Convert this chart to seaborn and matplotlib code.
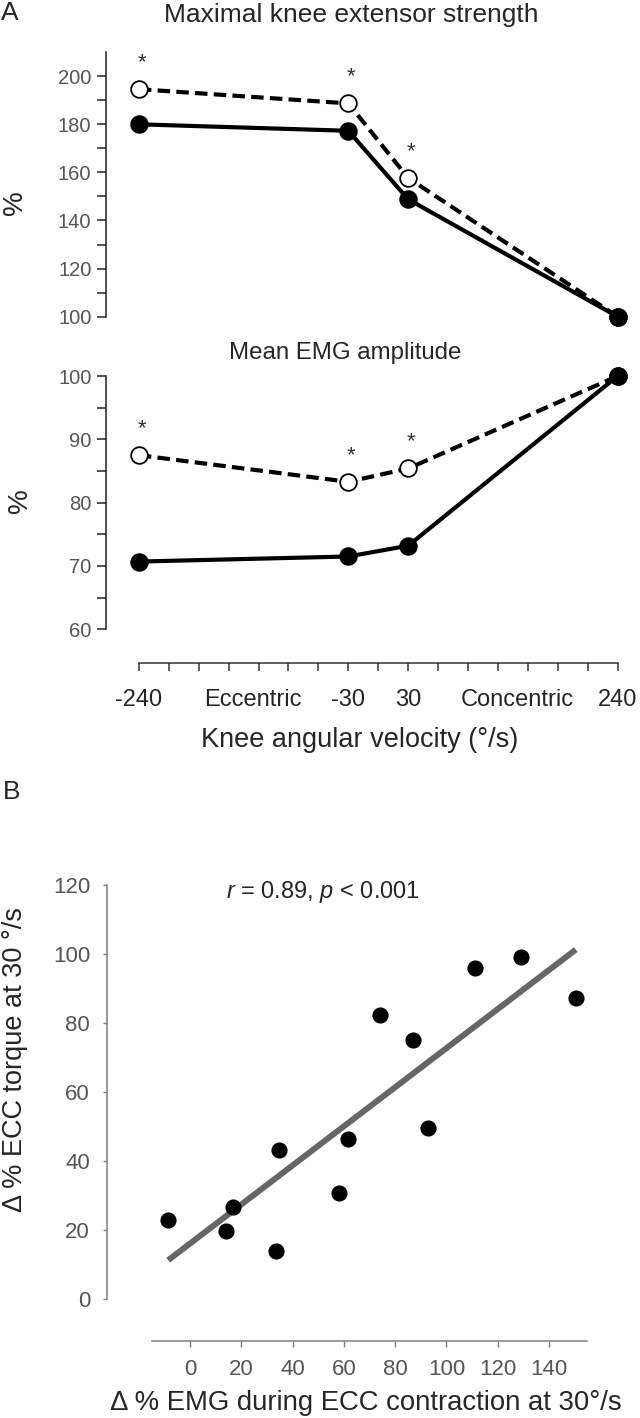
import numpy as np
import matplotlib
matplotlib.use('Agg')
import matplotlib.pyplot as plt
import seaborn as sns

# knee angular velocity in deg/s (negative = eccentric)
velocity = [-240, -30, 30, 240]

# A, top: maximal knee extensor strength (%)
strength_filled = [180.0, 177.3, 148.8, 100.0]
strength_open = [194.6, 188.7, 157.7, 100.0]

# A, bottom: mean EMG amplitude (%)
emg_filled = [70.7, 71.5, 73.2, 100.0]
emg_open = [87.5, 83.3, 85.4, 100.0]

# velocities marked with * (open symbols)
star_velocity = [-240, -30, 30]

# B: change in EMG vs change in ECC torque at 30 deg/s
delta_emg = [-8.6, 13.8, 16.8, 33.3, 34.7, 58.0, 61.7, 74.0, 87.0, 92.9, 111.1, 129.0, 150.5]
delta_torque = [22.9, 19.6, 26.8, 14.0, 43.3, 30.6, 46.5, 82.3, 75.1, 49.6, 95.9, 99.0, 87.2]

sns.set_style('ticks')
plt.rcParams['font.family'] = ['Liberation Sans', 'DejaVu Sans']
plt.rcParams['mathtext.fontset'] = 'custom'
plt.rcParams['mathtext.rm'] = 'Liberation Sans'
plt.rcParams['mathtext.it'] = 'Liberation Sans:italic'

fig = plt.figure(figsize=(6.4, 14.18), dpi=100)
ax1 = fig.add_axes([0.1656, 0.7767, 0.819, 0.1865])
ax2 = fig.add_axes([0.1656, 0.5562, 0.819, 0.1786])
ax3 = fig.add_axes([0.1667, 0.0839, 0.763, 0.3042])


def draw_pair(ax, filled, hollow):
    # dashed line with open circles first, solid one on top
    sns.lineplot(x=velocity, y=hollow, ax=ax, color='black', lw=3,
                 linestyle=(0, (3, 1.5)), marker='o', markersize=12,
                 markerfacecolor='white', markeredgecolor='black',
                 markeredgewidth=1.3, clip_on=False)
    sns.lineplot(x=velocity, y=filled, ax=ax, color='black', lw=3,
                 marker='o', markersize=12, markerfacecolor='black',
                 markeredgecolor='black', markeredgewidth=1.3, clip_on=False)
    for v in star_velocity:
        y = hollow[velocity.index(v)]
        ax.annotate('*', xy=(v, y), xytext=(2, 15), textcoords='offset points',
                    ha='center', va='baseline', fontsize=16, color='#333333')


def style_y(ax, lo, hi, major, minor):
    ax.set_ylim(lo, hi)
    ax.set_yticks(np.arange(lo, hi + 0.1, major))
    ax.set_yticks(np.arange(lo, hi + 0.1, minor), minor=True)
    ax.tick_params(axis='y', which='both', length=6.5, width=1.1,
                   color='#222222', labelsize=14.5, labelcolor='#555555', pad=4)
    ax.spines['left'].set_linewidth(1.1)
    ax.spines['left'].set_color('#222222')
    ax.spines[['top', 'right']].set_visible(False)
    ax.set_ylabel('%', fontsize=20)
    ax.yaxis.label.set_va('center')


# --- A top
draw_pair(ax1, strength_filled, strength_open)
style_y(ax1, 100, 200, 20, 10)
ax1.set_ylim(100, 210)
ax1.spines['left'].set_bounds(100, 210)
ax1.spines['bottom'].set_visible(False)
ax1.set_xticks([])
ax1.set_xlim(-273, 252.6)
ax1.yaxis.set_label_coords(-0.174, 0.43)
ax1.set_title('Maximal knee extensor strength', fontsize=19, x=0.468, y=1.141,
              va='center', pad=0)

# --- A bottom
draw_pair(ax2, emg_filled, emg_open)
style_y(ax2, 60, 100, 10, 5)
ax2.set_xlim(-273, 252.6)
ax2.yaxis.set_label_coords(-0.164, 0.51)
ax2.set_title('Mean EMG amplitude', fontsize=17.3, x=0.456, y=1.091, va='center', pad=0)
ax2.spines['bottom'].set_position(('outward', 24))
ax2.spines['bottom'].set_bounds(-240, 240)
ax2.spines['bottom'].set_linewidth(1.1)
ax2.spines['bottom'].set_color('#333333')
ax2.xaxis.remove_overlapping_locs = False
ax2.set_xticks(np.arange(-240, 241, 30), minor=True)
ax2.set_xticks([-240, -126, -30, 30, 139, 240])
ax2.set_xticklabels(['-240', 'Eccentric', '-30', '30', 'Concentric', '240'])
ax2.tick_params(axis='x', which='minor', length=6, width=1.1, color='#333333')
ax2.tick_params(axis='x', which='major', length=0, labelsize=17, pad=19)
ax2.set_xlabel('Knee angular velocity (°/s)', fontsize=19.5)
ax2.xaxis.set_label_coords(0.483, -0.437)
ax2.xaxis.label.set_va('center')

# --- B
sns.regplot(x=delta_emg, y=delta_torque, ax=ax3, ci=None, truncate=True,
            scatter_kws=dict(s=135, color='black', linewidths=0, alpha=1, zorder=3),
            line_kws=dict(color='#666666', lw=4.3, solid_capstyle='butt', zorder=2))
ax3.set_xlim(-32.6, 158)
ax3.set_ylim(0, 125)
ax3.set_xticks(np.arange(0, 141, 20))
ax3.set_yticks(np.arange(0, 121, 20))
ax3.spines[['top', 'right']].set_visible(False)
ax3.spines['left'].set_bounds(0, 120)
ax3.spines['bottom'].set_bounds(-15, 155)
ax3.spines['bottom'].set_position(('outward', 30))
for s in ['left', 'bottom']:
    ax3.spines[s].set_color('#808080')
    ax3.spines[s].set_linewidth(1.1)
ax3.tick_params(axis='y', length=3, width=1, color='#808080', labelsize=16,
                labelcolor='#555555', pad=9)
ax3.tick_params(axis='x', length=4, width=1, color='#808080', labelsize=16,
                labelcolor='#555555', pad=9)
ax3.set_xlabel('Δ % EMG during ECC contraction at 30°/s', fontsize=19.8)
ax3.xaxis.set_label_coords(0.531, -0.241)
ax3.xaxis.label.set_va('center')
ax3.set_ylabel('Δ % ECC torque at 30 °/s', fontsize=19.5)
ax3.yaxis.set_label_coords(-0.188, 0.554)
ax3.yaxis.label.set_va('center')
ax3.text(52, 118, '$r$ = 0.89, $p$ < 0.001', fontsize=17, ha='center', va='center')

fig.text(0.002, 1 - 13 / 1418, 'A', fontsize=19, va='center', ha='left')
fig.text(0.004, 1 - 792 / 1418, 'B', fontsize=19, va='center', ha='left')

fig.savefig('out.png', dpi=100)
